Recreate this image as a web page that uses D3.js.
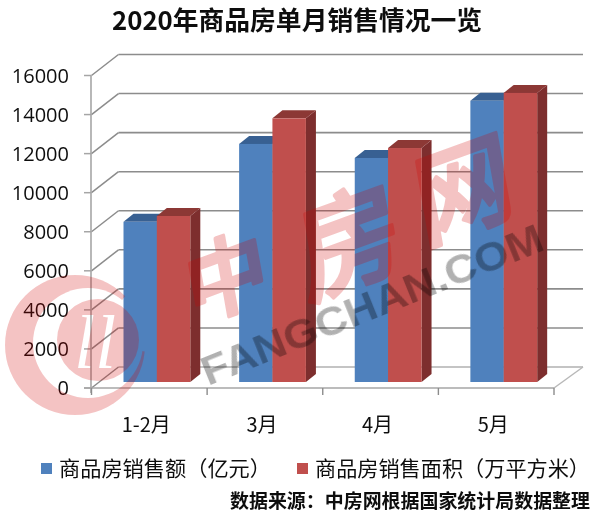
<!DOCTYPE html>
<html><head><meta charset="utf-8">
<script src="https://cdn.jsdelivr.net/npm/d3@7"></script>
<style>
html,body{margin:0;padding:0;background:#fff}
svg{display:block}
text{font-family:"Noto Sans CJK SC","Noto Sans",sans-serif}
</style></head><body>
<svg id="c" width="600" height="524"></svg>
<script>
const categories=["1-2月","3月","4月","5月"];
const seriesNames=["商品房销售额（亿元）","商品房销售面积（万平方米）"];
const salesValue=[8200,12190,11470,14400];
const salesArea=[8500,13500,11980,14800];
const yTicks=[0,2000,4000,6000,8000,10000,12000,14000,16000];
const titleText="2020年商品房单月销售情况一览";
const sourceText="数据来源：中房网根据国家统计局数据整理";
const watermarkCn=["中","房","网"];
const watermarkEn="FANGCHAN.COM";

const svg=d3.select("#c");
const defs=svg.append("defs");
defs.append("filter").attr("id","soft").append("feGaussianBlur").attr("stdDeviation",0.45);
defs.append("filter").attr("id","soft2").append("feGaussianBlur").attr("stdDeviation",0.35);

const ringMask=defs.append("mask").attr("id","ringMask").attr("maskUnits","userSpaceOnUse").attr("x",0).attr("y",0).attr("width",600).attr("height",524);
ringMask.append("rect").attr("width",600).attr("height",524).attr("fill","#fff");
ringMask.append("circle").attr("cx",88).attr("cy",343).attr("r",55).attr("fill","#000");
ringMask.append("path").attr("d",d3.line()([[88,343],[175,356],[175,270],[146,270]])).attr("fill","#000");
const discMask=defs.append("mask").attr("id","discMask").attr("maskUnits","userSpaceOnUse").attr("x",0).attr("y",0).attr("width",600).attr("height",524);
discMask.append("rect").attr("width",600).attr("height",524).attr("fill","#fff");
discMask.append("text").attr("x",95).attr("y",368).attr("text-anchor","middle").attr("font-size",76).attr("font-style","italic")
  .style("font-family","'Liberation Serif'").attr("fill","#000").text("ll");

const y=d3.scaleLinear().domain([0,16000]).range([388,75.5]);
const x=d3.scaleBand().domain(categories).range([91.5,554]);
const depthX=27,depthY=21,barDX=10,barDY=8,lift=6;
const off=[32,65.3],bw=33.5;

const chart=svg.append("g").attr("filter","url(#soft)");
const gridColor="#8c8c8c";
const axisColor="#a6a6a6";
yTicks.forEach(t=>{
  const yy=y(t);
  chart.append("line").attr("x1",91.5+depthX).attr("x2",554+depthX+2).attr("y1",yy-depthY).attr("y2",yy-depthY)
    .attr("stroke",t===0?"#b0b0b0":gridColor).attr("stroke-width",1.6);
  chart.append("line").attr("x1",91.5).attr("x2",91.5+depthX).attr("y1",yy).attr("y2",yy-depthY)
    .attr("stroke",gridColor).attr("stroke-width",1.5);
  chart.append("line").attr("x1",84).attr("x2",91.5).attr("y1",yy).attr("y2",yy).attr("stroke",axisColor).attr("stroke-width",1.5);
  chart.append("text").attr("x",69).attr("y",yy+7).attr("text-anchor","end")
    .style("font-family","'Open Sans'").attr("font-size",20).attr("fill","#111").text(t);
});
chart.append("line").attr("x1",554).attr("x2",554+depthX+2).attr("y1",y(0)).attr("y2",y(0)-depthY).attr("stroke","#b8b8b8").attr("stroke-width",1.5);
chart.append("line").attr("x1",91).attr("x2",91).attr("y1",y(16000)).attr("y2",y(0)+5).attr("stroke",axisColor).attr("stroke-width",1.6);
chart.append("line").attr("x1",84).attr("x2",554).attr("y1",y(0)).attr("y2",y(0)).attr("stroke",axisColor).attr("stroke-width",1.6);
[...categories.map(c=>x(c)),554].forEach(px=>{
  chart.append("line").attr("x1",px).attr("x2",px).attr("y1",y(0)).attr("y2",y(0)+7).attr("stroke","#8c8c8c").attr("stroke-width",1.4);
});
categories.forEach(c=>{
  chart.append("text").attr("x",x(c)+x.bandwidth()/2-3).attr("y",432).attr("text-anchor","middle")
   .attr("font-size",20).attr("fill","#111").text(c);
});
const series=[{v:salesValue,f:"#4f81bd",top:"#376092",side:"#2f5280",o:off[0]},
              {v:salesArea,f:"#c0504d",top:"#8c3836",side:"#7d2f2d",o:off[1]}];
const by=v=>y(v)-lift;
const base=y(0)-lift;
categories.forEach((c,i)=>{
  series.forEach(s=>{
    const L=x(c)+s.o,R=L+bw,T=by(s.v[i]);
    const g=chart.append("g");
    g.append("path").attr("d",d3.line()([[R,T],[R+barDX,T-barDY],[R+barDX,base-barDY],[R,base]])).attr("fill",s.side);
    g.append("path").attr("d",d3.line()([[L,T],[L+barDX,T-barDY],[R+barDX,T-barDY],[R,T]])).attr("fill",s.top);
    g.append("rect").attr("x",L).attr("y",T).attr("width",bw).attr("height",base-T).attr("fill",s.f);
  });
});
// watermark: translucent red marks and a translucent black wordmark
const wm=svg.append("g").attr("filter","url(#soft2)").attr("opacity",0.23);
const wmRed="#d10000";
wm.append("g").attr("mask","url(#ringMask)").append("circle").attr("cx",75).attr("cy",345).attr("r",70).attr("fill",wmRed);
wm.append("g").attr("mask","url(#discMask)").append("circle").attr("cx",98).attr("cy",340).attr("r",41).attr("fill",wmRed);
const cnPos=[[232,308,84],[356,280,106],[470,226,100]];
watermarkCn.forEach((t,i)=>{
  wm.append("text").attr("transform",`translate(${cnPos[i][0]},${cnPos[i][1]}) rotate(-20) skewX(-10)`)
   .attr("text-anchor","middle").attr("font-size",cnPos[i][2]).attr("font-weight",500)
   .attr("fill",wmRed).attr("stroke",wmRed).attr("stroke-width",4).attr("stroke-linejoin","round").text(t);
});
svg.append("text").attr("filter","url(#soft2)").attr("transform","translate(208,386) rotate(-22)")
  .attr("font-size",40).attr("font-weight",700).style("font-family","'Liberation Sans'")
  .attr("fill","#000").attr("opacity",0.3).attr("textLength",365).attr("lengthAdjust","spacingAndGlyphs").text(watermarkEn);

const head=svg.append("g").attr("filter","url(#soft2)");
head.append("text").attr("x",297).attr("y",30).attr("text-anchor","middle").attr("font-size",26).attr("font-weight",700).attr("fill","#111")
  .attr("textLength",370).attr("lengthAdjust","spacingAndGlyphs").text(titleText);
const legX=[41,297],legTx=[59,315],legLen=[212,275];
series.forEach((s,i)=>{
  head.append("rect").attr("x",legX[i]).attr("y",463).attr("width",11).attr("height",11).attr("fill",s.f);
  head.append("text").attr("x",legTx[i]).attr("y",476).attr("font-size",21).attr("fill","#111").attr("textLength",legLen[i]).attr("lengthAdjust","spacingAndGlyphs").text(seriesNames[i]);
});
head.append("text").attr("x",230).attr("y",508).attr("font-size",19).attr("font-weight",700).attr("fill","#111").attr("textLength",360).attr("lengthAdjust","spacingAndGlyphs").text(sourceText);
</script></body></html>
